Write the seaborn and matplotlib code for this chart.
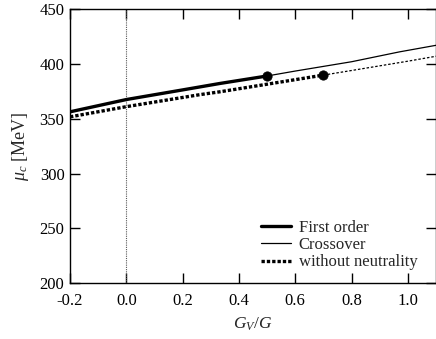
import matplotlib
matplotlib.use("Agg")
import matplotlib.pyplot as plt
import seaborn as sns
import numpy as np

sns.set_theme(style="ticks")
plt.rcParams['font.family'] = ['Liberation Serif', 'DejaVu Serif']
plt.rcParams['mathtext.fontset'] = 'custom'
plt.rcParams['mathtext.rm'] = 'Liberation Serif'
plt.rcParams['mathtext.it'] = 'Liberation Serif:italic'

# Data
first_x = [-0.2, 0.0, 0.2, 0.333, 0.5]
first_y = [356.3, 367.5, 376.3, 382.2, 389.0]
cross_x = [0.5, 0.6, 0.8, 0.97, 1.1]
cross_y = [389.0, 393.5, 402.0, 411.0, 417.0]
noneu_x = [-0.2, 0.0, 0.262, 0.333, 0.5, 0.7]
noneu_y = [351.7, 361.0, 372.0, 374.6, 381.5, 389.8]
noneu_ext_x = [0.7, 0.8, 1.0, 1.1]
noneu_ext_y = [389.8, 394.0, 402.5, 407.0]
endpoint_x = [0.5, 0.7]
endpoint_y = [389.0, 389.8]
xticks = [-0.2, 0.0, 0.2, 0.4, 0.6, 0.8, 1.0]
xticklabels = ["-0.2", "0.0", "0.2", "0.4", "0.6", "0.8", "1.0"]
yticks = [200, 250, 300, 350, 400, 450]

fig = plt.figure(figsize=(4.36, 3.39), dpi=100)
ax = fig.add_axes([0.1606, 0.165, 0.8394, 0.808])

ax.axvline(0.0, color='0.35', lw=0.8, ls=(0, (1, 1)), zorder=1)

sns.lineplot(x=first_x, y=first_y, ax=ax, color='black', lw=2.4, label='First order', sort=False)
sns.lineplot(x=cross_x, y=cross_y, ax=ax, color='black', lw=0.9, label='Crossover', sort=False)
sns.lineplot(x=noneu_x, y=noneu_y, ax=ax, color='black', lw=2.4, ls=(0, (1, 0.6)),
             label='without neutrality', sort=False)
sns.lineplot(x=noneu_ext_x, y=noneu_ext_y, ax=ax, color='black', lw=0.9, ls=(0, (2, 1.5)),
             sort=False, legend=False)
sns.scatterplot(x=endpoint_x, y=endpoint_y, ax=ax, color='black', s=45, zorder=5,
                edgecolor='black', legend=False)

ax.set_xlim(-0.2, 1.1)
ax.set_ylim(200, 450)
ax.set_xticks(xticks)
ax.set_xticklabels(xticklabels)
ax.set_yticks(yticks)
ax.tick_params(direction='in', length=7, width=1, top=True, right=True,
               labelsize=12, colors='black')
ax.tick_params(axis='x', pad=7)
ax.tick_params(axis='y', pad=4)
for s in ax.spines.values():
    s.set_linewidth(1.0)
    s.set_color('black')

ax.set_xlabel(r'$G_V/G$', fontsize=12.5, labelpad=5)
ax.set_ylabel(r'$\mu_c$ [MeV]', fontsize=13, labelpad=6)

leg = ax.legend(loc='lower right', bbox_to_anchor=(0.967, 0.022), frameon=False,
                fontsize=12, handlelength=1.8, handletextpad=0.45, labelspacing=0.08,
                borderaxespad=0.0)

fig.savefig('out.png', dpi=100)
